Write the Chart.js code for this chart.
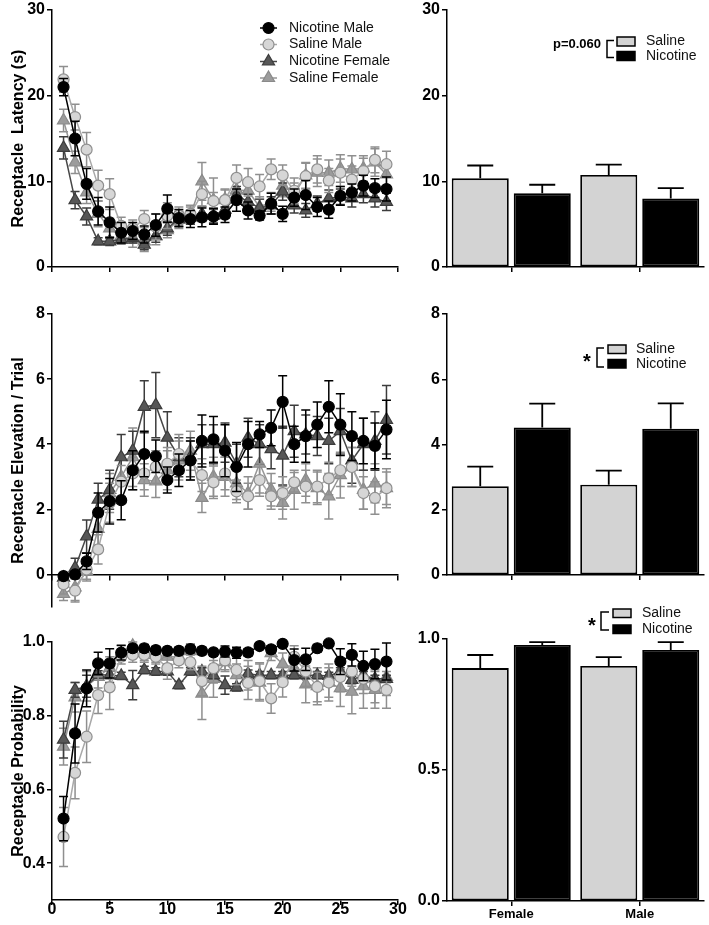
<!DOCTYPE html>
<html><head><meta charset="utf-8">
<script src="https://cdn.jsdelivr.net/npm/chart.js@4.4.0/dist/chart.umd.min.js"></script>
<style>
html,body{margin:0;padding:0;background:#fff;}
body{width:709px;height:925px;position:relative;overflow:hidden;}
canvas{position:absolute;}
</style></head><body>
<canvas id="c1" width="410" height="290" style="left:0;top:0"></canvas>
<canvas id="c2" width="329" height="290" style="left:380px;top:0"></canvas>
<canvas id="c3" width="410" height="330" style="left:0;top:290px"></canvas>
<canvas id="c4" width="329" height="330" style="left:380px;top:290px"></canvas>
<canvas id="c5" width="410" height="325" style="left:0;top:600px"></canvas>
<canvas id="c6" width="329" height="325" style="left:380px;top:600px"></canvas>
<script>
// ---------- DATA ----------
const sessions = [1,2,3,4,5,6,7,8,9,10,11,12,13,14,15,16,17,18,19,20,21,22,23,24,25,26,27,28,29];
const seriesNames = ['Nicotine Male','Saline Male','Nicotine Female','Saline Female'];

// Receptacle latency (s)
const latNicM  = [21.0,15.0,9.7,6.5,5.2,4.0,4.2,3.8,4.9,6.8,5.7,5.6,5.8,5.9,6.1,7.8,6.6,6.0,7.4,6.2,8.1,8.4,7.0,6.7,8.3,8.7,9.5,9.2,9.1];
const latNicMe = [1.0,2.0,1.8,1.6,1.8,1.2,1.0,1.0,1.3,1.6,1.0,1.0,1.1,0.9,0.9,1.3,1.0,0.5,1.2,0.9,1.0,1.7,1.1,1.0,1.1,1.0,1.2,1.1,1.4];
const latSalM  = [21.9,17.5,13.7,9.5,8.5,4.8,4.5,5.6,4.7,6.0,6.0,6.2,8.5,7.7,7.8,10.4,9.9,9.4,11.4,10.7,8.9,10.6,11.4,10.1,11.0,10.2,11.2,12.5,12.0];
const latSalMe = [1.5,1.5,2.0,1.8,1.8,1.0,1.0,1.0,1.5,1.5,1.0,1.0,1.5,1.0,1.2,1.5,1.6,1.4,1.2,1.2,1.5,1.5,1.6,1.4,1.6,1.6,1.5,1.5,1.5];
const latNicF  = [13.9,7.8,5.9,3.0,3.0,3.2,3.4,2.6,3.6,4.5,5.6,5.8,6.2,6.0,6.7,8.4,7.6,6.9,7.2,8.8,7.2,6.6,7.4,8.0,8.2,8.0,8.5,8.0,7.6];
const latNicFe = [1.3,1.0,1.0,0.4,0.5,0.5,0.6,0.6,0.7,0.8,0.8,0.8,0.9,0.9,1.0,1.0,0.9,1.0,1.0,1.0,0.9,0.8,0.9,1.0,0.9,1.0,1.0,1.0,1.0];
const latSalF  = [17.1,12.2,8.7,6.2,4.5,3.6,3.2,3.0,3.6,4.3,5.5,6.0,10.0,7.8,7.9,9.0,8.9,7.0,7.6,9.5,8.5,10.7,11.0,11.0,11.5,11.4,11.5,12.2,10.8];
const latSalFe = [1.3,1.3,1.3,1.5,1.2,0.9,0.9,1.2,1.0,0.9,1.0,1.0,2.2,2.6,1.2,1.2,1.2,1.2,1.1,1.3,1.3,1.5,1.6,1.5,1.6,1.6,1.5,1.6,1.6];

// Receptacle elevation / trial
const elvNicM  = [-0.05,0.0,0.4,1.9,2.25,2.28,3.2,3.7,3.63,2.9,3.2,3.5,4.1,4.15,3.8,3.3,4.0,4.3,4.5,5.3,4.0,4.25,4.6,5.15,4.6,4.25,4.1,3.95,4.45];
const elvNicMe = [0.05,0.1,0.25,0.6,0.7,0.6,0.6,0.7,0.5,0.4,0.5,0.6,0.8,0.7,0.8,0.75,0.7,0.4,0.55,0.8,0.55,0.8,0.7,0.8,0.95,0.75,0.7,0.7,0.9];
const elvSalM  = [-0.3,-0.5,0.15,0.77,2.2,2.85,3.1,3.1,3.3,3.4,3.7,3.5,3.05,2.83,3.1,2.55,2.4,2.9,2.4,2.5,2.83,2.7,2.7,2.95,3.2,3.3,2.5,2.35,2.65];
const elvSalMe = [0.3,0.35,0.3,0.45,0.6,0.5,0.5,0.5,0.5,0.5,0.6,0.6,0.5,0.5,0.5,0.35,0.4,0.5,0.4,0.5,0.3,0.5,0.5,0.5,0.5,0.6,0.5,0.5,0.5];
const elvNicF  = [-0.1,0.2,1.17,2.3,2.6,3.6,3.8,5.15,5.2,4.2,3.6,3.6,4.0,4.0,4.05,3.4,4.2,4.0,3.85,3.65,4.4,4.3,4.25,4.1,4.4,3.5,4.0,4.1,4.75];
const elvNicFe = [0.1,0.3,0.5,0.5,0.6,0.7,0.6,0.8,1.0,0.8,0.6,0.6,0.6,0.6,0.6,0.6,0.6,0.6,0.6,0.9,0.8,0.6,0.6,0.7,0.7,0.7,0.8,0.9,1.05];
const elvSalF  = [-0.6,-0.4,0.1,1.4,2.5,3.0,3.6,2.9,2.86,3.2,3.5,3.8,2.35,3.0,3.0,2.8,2.5,3.4,2.6,2.2,2.6,2.9,2.65,2.4,3.05,3.3,2.6,2.8,2.65];
const elvSalFe = [0.2,0.4,0.3,0.5,0.6,0.6,0.9,0.5,0.5,0.6,0.6,0.6,0.45,0.6,0.6,0.5,0.5,0.9,0.5,0.5,0.6,0.5,0.5,0.7,0.7,0.6,0.6,0.6,0.6];

// Receptacle probability
const prbNicM  = [0.521,0.752,0.874,0.942,0.942,0.971,0.983,0.983,0.978,0.976,0.976,0.981,0.976,0.972,0.974,0.971,0.972,0.989,0.98,0.995,0.951,0.953,0.983,0.996,0.947,0.965,0.935,0.94,0.947];
const prbNicMe = [0.06,0.08,0.05,0.03,0.04,0.02,0.01,0.01,0.01,0.01,0.01,0.01,0.01,0.01,0.015,0.015,0.01,0.005,0.01,0.005,0.03,0.03,0.01,0.004,0.035,0.03,0.04,0.04,0.05];
const prbSalM  = [0.471,0.645,0.743,0.856,0.877,0.96,0.965,0.965,0.96,0.929,0.95,0.945,0.894,0.929,0.95,0.924,0.889,0.894,0.847,0.891,0.96,0.92,0.878,0.89,0.905,0.92,0.9,0.88,0.87];
const prbSalMe = [0.08,0.07,0.07,0.05,0.06,0.02,0.02,0.02,0.02,0.03,0.02,0.02,0.04,0.04,0.03,0.04,0.045,0.05,0.04,0.04,0.03,0.04,0.04,0.04,0.04,0.04,0.04,0.045,0.05];
const prbNicF  = [0.735,0.87,0.88,0.912,0.91,0.908,0.883,0.924,0.92,0.92,0.883,0.92,0.92,0.91,0.883,0.877,0.914,0.91,0.91,0.91,0.91,0.91,0.91,0.908,0.92,0.897,0.91,0.9,0.9];
const prbNicFe = [0.05,0.02,0.03,0.01,0.02,0.01,0.04,0.01,0.01,0.01,0.01,0.01,0.01,0.01,0.025,0.01,0.01,0.01,0.01,0.01,0.01,0.01,0.01,0.01,0.01,0.01,0.01,0.01,0.01];
const prbSalF  = [0.716,0.85,0.88,0.905,0.93,0.97,0.99,0.97,0.965,0.96,0.96,0.975,0.86,0.9,0.945,0.91,0.91,0.89,0.97,0.94,0.93,0.885,0.88,0.89,0.875,0.865,0.88,0.87,0.905];
const prbSalFe = [0.05,0.04,0.04,0.03,0.03,0.02,0.01,0.02,0.02,0.02,0.02,0.02,0.07,0.05,0.02,0.03,0.04,0.05,0.02,0.03,0.03,0.05,0.05,0.05,0.05,0.06,0.06,0.05,0.05];

// Bar panels (group means)
const barCats = ['Female','Male'];
const barNames = ['Saline','Nicotine'];
const latSal = [10.35,10.75], latSalErr = [1.5,1.2];
const latNic = [8.6,8.0],     latNicErr = [1.0,1.2];
const elvSal = [2.72,2.77],   elvSalErr = [0.6,0.43];
const elvNic = [4.52,4.48],   elvNicErr = [0.73,0.78];
const prbSal = [0.889,0.897], prbSalErr = [0.05,0.034];
const prbNic = [0.977,0.958], prbNicErr = [0.011,0.03];

const latTicks = [0,10,20,30];
const elvTicks = [0,2,4,6,8];
const prbTicks = [0.4,0.6,0.8,1.0];
const prbBarTicks = [0,0.5,1.0];
const xTicks = [0,5,10,15,20,25,30];

// ---------- STYLE ----------
Chart.defaults.font.family = "'Liberation Sans', Arial, sans-serif";
Chart.defaults.color = '#000';
const FONT = "'Liberation Sans', Arial, sans-serif";
const STY = [
  {borderColor:'#000', pointBackgroundColor:'#000', pointBorderColor:'#000', pointStyle:'circle', pointRadius:5.5, errColor:'#000'},
  {borderColor:'#a8a8a8', pointBackgroundColor:'#d6d6d6', pointBorderColor:'#8f8f8f', pointStyle:'circle', pointRadius:5.5, errColor:'#8f8f8f'},
  {borderColor:'#474747', pointBackgroundColor:'#575757', pointBorderColor:'#3c3c3c', pointStyle:'triangle', pointRadius:7, errColor:'#3c3c3c'},
  {borderColor:'#969696', pointBackgroundColor:'#9c9c9c', pointBorderColor:'#8a8a8a', pointStyle:'triangle', pointRadius:7, errColor:'#8f8f8f'}
];

const lineErrPlugin = {
  id:'lineErr',
  beforeDatasetDraw(chart, args){
    const ds = chart.data.datasets[args.index];
    if(!ds.err) return;
    const ctx = chart.ctx, ys = chart.scales.y;
    ctx.save();
    ctx.strokeStyle = ds.errColor; ctx.lineWidth = 1.5;
    args.meta.data.forEach((pt,i)=>{
      const v = ds.data[i].y, e = ds.err[i];
      const yt = ys.getPixelForValue(v+e), yb = ys.getPixelForValue(v-e);
      ctx.beginPath();
      ctx.moveTo(pt.x, yt); ctx.lineTo(pt.x, yb);
      ctx.moveTo(pt.x-4.5, yt); ctx.lineTo(pt.x+4.5, yt);
      ctx.moveTo(pt.x-4.5, yb); ctx.lineTo(pt.x+4.5, yb);
      ctx.stroke();
    });
    ctx.restore();
  }
};

const barErrPlugin = {
  id:'barErr',
  afterDatasetDraw(chart, args){
    const ds = chart.data.datasets[args.index];
    if(!ds.err) return;
    const ctx = chart.ctx, ys = chart.scales.y;
    ctx.save();
    ctx.strokeStyle = '#000'; ctx.lineWidth = 1.8;
    args.meta.data.forEach((bar,i)=>{
      const v = ds.data[i], e = ds.err[i];
      const y0 = ys.getPixelForValue(v), yt = ys.getPixelForValue(v+e);
      ctx.beginPath();
      ctx.moveTo(bar.x, y0); ctx.lineTo(bar.x, yt);
      ctx.moveTo(bar.x-13, yt); ctx.lineTo(bar.x+13, yt);
      ctx.stroke();
    });
    ctx.restore();
  }
};

function drawMarker(ctx, st, x, y){
  ctx.fillStyle = st.pointBackgroundColor; ctx.strokeStyle = st.pointBorderColor; ctx.lineWidth = 1.2;
  ctx.beginPath();
  if(st.pointStyle==='circle'){ ctx.arc(x,y,st.pointRadius,0,Math.PI*2); }
  else { const r = st.pointRadius; ctx.moveTo(x, y-r); ctx.lineTo(x+0.866*r, y+0.5*r); ctx.lineTo(x-0.866*r, y+0.5*r); ctx.closePath(); }
  ctx.fill(); ctx.stroke();
}

const lineLegendPlugin = {
  id:'lineLegend',
  afterDraw(chart){
    const ctx = chart.ctx; const rows = [28,44.5,61.5,78];
    ctx.save();
    seriesNames.forEach((name,k)=>{
      const st = STY[k], y = rows[k];
      ctx.strokeStyle = st.borderColor; ctx.lineWidth = 1.5;
      ctx.beginPath(); ctx.moveTo(260,y); ctx.lineTo(277,y); ctx.stroke();
      drawMarker(ctx, st, 268.5, y);
      ctx.fillStyle = '#111'; ctx.font = '14px ' + FONT; ctx.textBaseline = 'middle'; ctx.textAlign = 'left';
      ctx.fillText(name, 289, y);
    });
    ctx.restore();
  }
};

function barLegend(o){
  return {
    id:'barLegend',
    afterDraw(chart){
      const ctx = chart.ctx;
      ctx.save();
      // boxes
      ctx.lineWidth = 1.5; ctx.strokeStyle = '#000';
      ctx.fillStyle = '#d3d3d3'; ctx.fillRect(o.bx, o.sy, 18, o.bh); ctx.strokeRect(o.bx, o.sy, 18, o.bh);
      ctx.fillStyle = '#000'; ctx.fillRect(o.bx, o.ny, 18, o.bh); ctx.strokeRect(o.bx, o.ny, 18, o.bh);
      // bracket
      ctx.beginPath();
      ctx.moveTo(o.kx2, o.k1); ctx.lineTo(o.kx1, o.k1); ctx.lineTo(o.kx1, o.k2); ctx.lineTo(o.kx2, o.k2);
      ctx.stroke();
      // texts
      ctx.fillStyle = '#111'; ctx.font = '14px ' + FONT; ctx.textBaseline = 'middle'; ctx.textAlign = 'left';
      ctx.fillText(barNames[0], o.tx, o.sy + o.bh/2);
      ctx.fillText(barNames[1], o.tx, o.ny + o.bh/2);
      ctx.fillStyle = '#000';
      if(o.star){
        ctx.font = 'bold 20px ' + FONT; ctx.textAlign = 'center';
        ctx.fillText('*', o.lx, o.ly + 5);
      } else {
        ctx.font = 'bold 13px ' + FONT; ctx.textAlign = 'right';
        ctx.fillText(o.label, o.lx, o.ly);
      }
      ctx.restore();
    }
  };
}

const axisGrid = {drawOnChartArea:false, tickLength:5, color:'#000', lineWidth:1.5};
const axisBorder = {color:'#000', width:1.5};
const tickFont = {size:16, weight:'bold', lineHeight:1};

function fixedTicks(list){ return function(scale){ scale.ticks = list.map(v=>({value:v})); }; }

function lineChart(id, vals, errs, opt){
  const datasets = vals.map((arr,k)=>Object.assign({
    label: seriesNames[k],
    data: sessions.map((s,i)=>({x:s, y:arr[i]})),
    err: errs[k],
    borderWidth:1.5, pointBorderWidth:1.2, tension:0, clip:false, fill:false
  }, STY[k]));
  const xScale = {
    type:'linear', min:0, max:30,
    ticks:{display:opt.xLabels, stepSize:5, font:tickFont, color:'#000', padding:opt.xPad||0, callback:v=>String(v)},
    afterBuildTicks: fixedTicks(xTicks),
    grid:axisGrid, border:axisBorder,
    afterFit(s){ s.height = opt.xH; }
  };
  if(opt.xPos) xScale.position = opt.xPos;
  return new Chart(document.getElementById(id), {
    type:'line',
    data:{datasets},
    options:{
      responsive:false, animation:false, events:[],
      layout:{padding:{top:opt.padTop, right:12, left:0, bottom:opt.padBottom||0}},
      plugins:{legend:{display:false}, tooltip:{enabled:false}},
      scales:{
        x: xScale,
        y:{
          min:opt.yMin, max:opt.yMax,
          afterBuildTicks: fixedTicks(opt.yTicks),
          ticks:{font:tickFont, color:'#000', padding:2, callback:opt.yFmt || (v=>String(v))},
          grid:axisGrid, border:axisBorder,
          title:{display:true, text:opt.title, font:{size:16, weight:'bold'}, color:'#000', padding:{top:9,bottom:0}},
          afterFit(s){ s.width = 52; }
        }
      }
    },
    plugins: opt.legend ? [lineErrPlugin, lineLegendPlugin] : [lineErrPlugin]
  });
}

function barChart(id, sal, salErr, nic, nicErr, opt){
  return new Chart(document.getElementById(id), {
    type:'bar',
    data:{labels:barCats, datasets:[
      {label:barNames[0], data:sal, err:salErr, backgroundColor:'#d3d3d3', borderColor:'#000', borderWidth:1.8, borderSkipped:false},
      {label:barNames[1], data:nic, err:nicErr, backgroundColor:'#000', borderColor:'#000', borderWidth:1.8, borderSkipped:false}
    ]},
    options:{
      responsive:false, animation:false, events:[],
      layout:{padding:{top:opt.padTop, right:5, left:0, bottom:0}},
      datasets:{bar:{categoryPercentage:0.965, barPercentage:0.92}},
      plugins:{legend:{display:false}, tooltip:{enabled:false}},
      scales:{
        x:{
          ticks:{display:opt.xLabels, font:{size:13, weight:'bold', lineHeight:1.2}, color:'#000', padding:1},
          grid:Object.assign({offset:false}, axisGrid), border:axisBorder,
          afterFit(s){ s.height = opt.xH; }
        },
        y:{
          min:opt.yMin, max:opt.yMax,
          afterBuildTicks: fixedTicks(opt.yTicks),
          ticks:{font:tickFont, color:'#000', padding:2, callback:opt.yFmt || (v=>String(v))},
          grid:axisGrid, border:axisBorder,
          afterFit(s){ s.width = 67; }
        }
      }
    },
    plugins:[barErrPlugin, barLegend(opt.leg)]
  });
}

// ---------- CHARTS ----------
lineChart('c1', [latNicM,latSalM,latNicF,latSalF], [latNicMe,latSalMe,latNicFe,latSalFe],
  {padTop:8, xH:23, xLabels:false, yMin:0, yMax:30, yTicks:latTicks, title:'Receptacle  Latency (s)', legend:true});
barChart('c2', latSal, latSalErr, latNic, latNicErr,
  {padTop:8, xH:23, xLabels:false, yMin:0, yMax:30, yTicks:latTicks,
   leg:{bx:237, sy:37, ny:51.5, bh:9, kx1:227, kx2:234, k1:40.5, k2:57.5, tx:266, lx:221, ly:44, label:'p=0.060', star:false}});

lineChart('c3', [elvNicM,elvSalM,elvNicF,elvSalF], [elvNicMe,elvSalMe,elvNicFe,elvSalFe],
  {padTop:24, padBottom:13, xH:0, xPos:{y:0}, xLabels:false, yMin:-1, yMax:8, yTicks:elvTicks, title:'Receptacle Elevation / Trial'});
barChart('c4', elvSal, elvSalErr, elvNic, elvNicErr,
  {padTop:24, xH:45, xLabels:false, yMin:0, yMax:8, yTicks:elvTicks,
   leg:{bx:228, sy:55, ny:69.5, bh:8.5, kx1:217, kx2:224, k1:58, k2:77, tx:256, lx:207, ly:67, star:true}});

lineChart('c5', [prbNicM,prbSalM,prbNicF,prbSalF], [prbNicMe,prbSalMe,prbNicFe,prbSalFe],
  {padTop:42, xH:25, xLabels:true, xPad:-3, yMin:0.3, yMax:1.0, yTicks:prbTicks, yFmt:v=>v.toFixed(1), title:'Receptacle Probability'});
barChart('c6', prbSal, prbSalErr, prbNic, prbNicErr,
  {padTop:39, xH:24, xLabels:true, yMin:0, yMax:1.0, yTicks:prbBarTicks, yFmt:v=>v.toFixed(1),
   leg:{bx:233, sy:9, ny:25, bh:8.5, kx1:221, kx2:229, k1:12, k2:30, tx:262, lx:212, ly:21, star:true}});
</script>
</body></html>
